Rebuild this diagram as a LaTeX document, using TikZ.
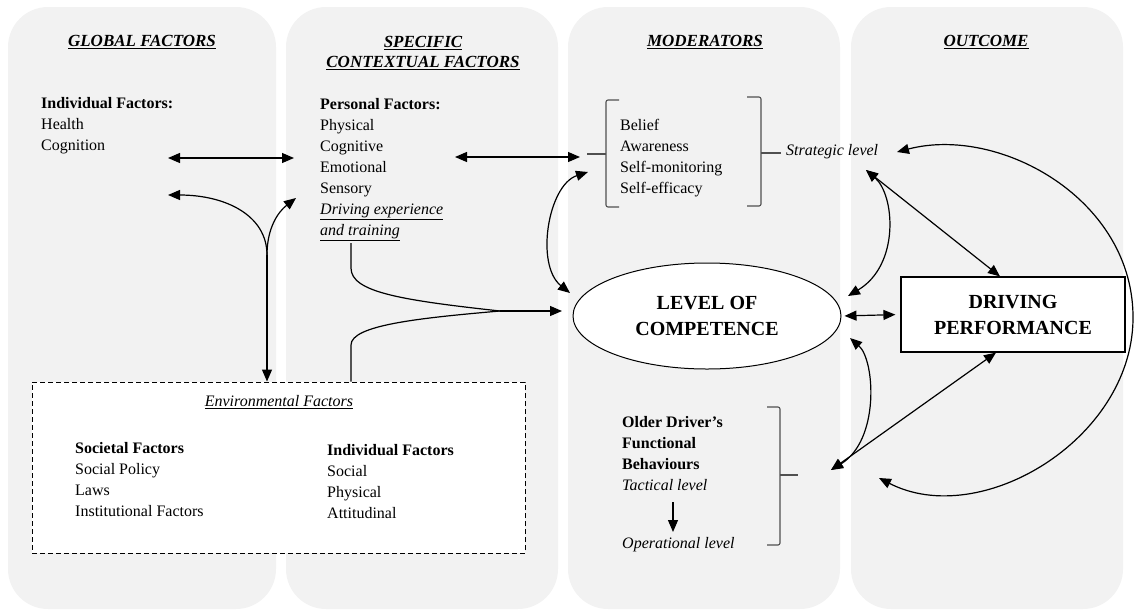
\documentclass[tikz,border=0pt]{standalone}
\usepackage{fontspec}
\setmainfont{Liberation Serif}
\usetikzlibrary{arrows.meta,shapes.geometric}
\definecolor{panelgray}{HTML}{F2F2F2}
\definecolor{bracketgray}{HTML}{505050}
\begin{document}
\begin{tikzpicture}[x=1pt,y=-1pt,
  >={Triangle[length=12pt,width=10pt]},
  panel/.style={fill=panelgray,draw=none,rounded corners=40pt},
  heading/.style={font=\fontsize{17}{20}\selectfont\bfseries\itshape,align=center,inner sep=0pt},
  body/.style={font=\fontsize{16}{21}\selectfont,align=left,anchor=north west,inner sep=0pt},
  big/.style={font=\fontsize{20}{26}\selectfont\bfseries,align=center},
  link/.style={line width=1.2pt},
  bracket/.style={draw=bracketgray,line width=1.1pt,rounded corners=2pt}]
\useasboundingbox (0,0) rectangle (1135,611);

% column panels
\fill[panel] (8,7) rectangle (276,609);
\fill[panel] (286,7) rectangle (558,609);
\fill[panel] (568,7) rectangle (840,609);
\fill[panel] (851,7) rectangle (1123,609);

% headings
\node[heading] (hglobal) at (142,42) {\underline{GLOBAL FACTORS}};
\node[heading] (hspec) at (423,53) {\underline{SPECIFIC}\\\underline{CONTEXTUAL FACTORS}};
\node[heading] (hmod) at (705,42) {\underline{MODERATORS}};
\node[heading] (hout) at (986,42) {\underline{OUTCOME}};

% environmental factors box
\node[draw,dashed,dash pattern=on 5pt off 3pt,fill=white,line width=1pt,
      minimum width=493pt,minimum height=171pt,inner sep=0pt] (env) at (278.5,467.5) {};
\node[body,anchor=center] (envt) at (279,402) {\textit{\underline{Environmental Factors}}};
\node[body] (soc) at (75,442) {\textbf{Societal Factors}\\Social Policy\\Laws\\Institutional Factors};
\node[body] (indiv) at (327,444) {\textbf{Individual Factors}\\Social\\Physical\\Attitudinal};

% text blocks
\node[body] (glob) at (41,97) {\textbf{Individual Factors:}\\Health\\Cognition};
\node[body] (pers) at (320,98) {\textbf{Personal Factors:}\\Physical\\Cognitive\\Emotional\\Sensory\\\textit{\underline{Driving experience}}\\\textit{\underline{and training}}};
\node[body] (mods) at (620,119) {Belief\\Awareness\\Self-monitoring\\Self-efficacy};
\node[body,anchor=west] (strat) at (786,152) {\textit{Strategic level}};
\node[body] (func) at (622,416) {\textbf{Older Driver’s}\\\textbf{Functional}\\\textbf{Behaviours}\\\textit{Tactical level}};
\node[body,anchor=west] (oper) at (622,545) {\textit{Operational level}};

% central nodes
\node[ellipse,draw,fill=white,line width=1pt,minimum width=268pt,minimum height=106pt,inner sep=0pt,big] (comp) at (707,316) {LEVEL OF\\COMPETENCE};
\node[draw,fill=white,line width=1.2pt,minimum width=224pt,minimum height=75pt,big] (perf) at (1013,314.5) {DRIVING\\PERFORMANCE};

% brackets
\draw[bracket] (619,100) -- (606,100) -- (606,207) -- (619,207);
\draw[bracket] (587,154) -- (606,154);
\draw[bracket] (747,97) -- (761,97) -- (761,206) -- (747,206);
\draw[bracket] (761,153) -- (781,153);
\draw[bracket] (767,407) -- (780,407) -- (780,545) -- (767,545);
\draw[bracket] (780,475) -- (798,475);

% anchor points for connectors
\coordinate (globR) at (168,158);
\coordinate (persL) at (294,158);
\coordinate (persR) at (455,157);
\coordinate (modL) at (580,157);
\coordinate (globB) at (168,195);
\coordinate (persB) at (296,198);
\coordinate (junc) at (267,255);
\coordinate (drvB) at (351,243);
\coordinate (merge) at (500,311);
\coordinate (compIn) at (562,311);
\coordinate (modB) at (588,172);
\coordinate (compTL) at (570,293);
\coordinate (stratB) at (866,170);
\coordinate (stratR) at (897,152);
\coordinate (compTR) at (848,296);
\coordinate (compBR) at (850,338);
\coordinate (funcR) at (831,470);
\coordinate (loopEnd) at (879,478);
\coordinate (tacT) at (673,502);
\coordinate (tacB) at (673,532);

% connectors
\draw[link,<->] (globR) -- (persL);
\draw[link,<->] (persR) -- (modL);
\draw[link,->] (junc) .. controls (267,215) and (225,195) .. (globB);
\draw[link,->] (junc) .. controls (267,228) and (278,212) .. (persB);
\draw[link,->] (junc) -- (junc |- env.north);
\draw[link] (drvB) -- (351,268) .. controls (351,292) and (400,300) .. (merge);
\draw[link] (env.north -| drvB) -- (351,345) .. controls (351,325) and (420,318) .. (merge);
\draw[link,->] (merge) -- (compIn);
\draw[link,<->] (modB) .. controls (548,185) and (535,265) .. (compTL);
\draw[link,<->] (stratB) .. controls (895,195) and (900,265) .. (compTR);
\draw[link,<->] (stratB) -- (perf.north -| 1000,0);
\draw[link,<->] (stratR) .. controls (1000,125) and (1135,200) .. (1133,320)
                  .. controls (1131,440) and (980,530) .. (loopEnd);
\draw[link,<->] (compBR) .. controls (875,360) and (880,440) .. (funcR);
\draw[link,<->] (funcR) -- (perf.south -| 996,0);
\draw[link,<->,shorten <=3pt,shorten >=5pt] (comp.east) -- (perf.west);
\draw[link,->] (tacT) -- (tacB);
\end{tikzpicture}
\end{document}
